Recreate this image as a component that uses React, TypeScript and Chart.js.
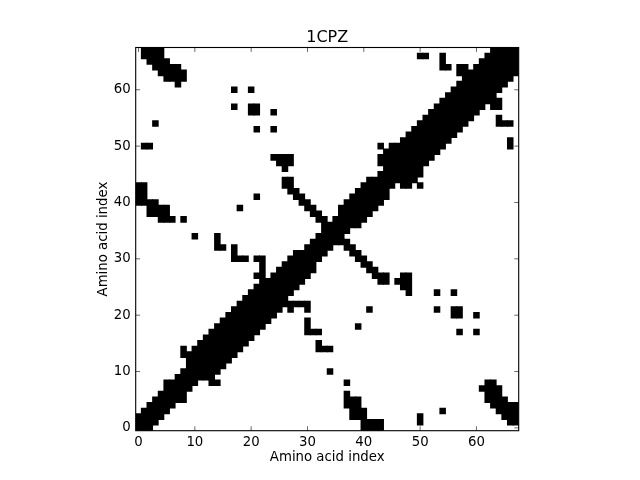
import React, { useEffect, useRef } from "react";
import { Chart, registerables } from "chart.js";

Chart.register(...registerables);

const RESIDUE_COUNT = 68;
const tickValues = [0, 10, 20, 30, 40, 50, 60];
const titleText = "1CPZ";
const axisLabel = "Amino acid index";

// lowest contacting residue j (j <= i) of the near-diagonal band, for each residue i
const bandLower = [
  0, 0, 0, 1, 2, 3, 4, 5, 5, 7,
  8, 9, 9, 8, 10, 11, 12, 13, 14, 15,
  16, 17, 18, 19, 20, 21, 22, 24, 25, 26,
  27, 28, 30, 31, 32, 33, 34, 35, 36, 36,
  37, 38, 39, 40, 41, 43, 44, 43, 43, 44,
  45, 47, 48, 49, 50, 51, 52, 53, 54, 55,
  56, 57, 58, 59, 60, 61, 62, 63,
];

// off-band contacts [i, j] with i > j (the map is symmetric)
const helixContacts = [
  [14, 8], [27, 21], [27, 22], [28, 22], [29, 22], [30, 22], [30, 21],
  [30, 17], [30, 18], [30, 19], [31, 17], [32, 17],
  [32, 14], [32, 15], [33, 14], [34, 14],
  [34, 10], [37, 8], [39, 18], [41, 21],
];
const hairpinContacts = [
  [36, 33], [37, 32], [37, 33], [38, 31], [38, 32], [39, 30], [39, 31],
  [40, 29], [40, 30], [41, 28], [41, 29], [42, 27], [42, 28],
  [43, 26], [43, 27], [44, 26], [44, 27],
  [46, 26], [47, 25], [47, 26], [47, 27], [48, 24], [48, 25], [48, 26], [48, 27],
  [53, 24], [56, 24], [50, 43],
];
const nTerminalContacts = [
  [40, 0], [41, 0], [42, 0], [43, 0], [40, 1], [41, 1], [42, 1], [43, 1],
  [38, 2], [39, 2], [40, 2], [38, 3], [39, 3], [40, 3],
  [37, 4], [38, 4], [39, 4], [37, 5], [38, 5], [39, 5], [37, 6],
  [50, 1], [50, 2], [54, 3],
  [53, 21], [56, 20], [56, 21], [57, 20], [57, 21], [60, 20], [57, 17], [60, 17],
];
const cTerminalContacts = [
  [61, 7], [62, 5], [62, 6], [62, 7], [62, 8],
  [63, 4], [63, 5], [63, 6], [63, 7], [63, 8],
  [64, 3], [64, 4], [64, 5], [64, 6], [64, 7],
  [65, 2], [65, 3], [65, 4], [65, 5],
  [66, 1], [66, 2], [66, 3], [66, 4],
  [67, 1], [67, 2], [67, 3], [67, 4],
  [66, 50], [66, 51], [64, 54], [65, 54], [66, 54], [64, 55],
  [63, 57], [64, 57], [63, 58], [64, 58],
];

function buildColumns() {
  const m: number[][] = [];
  for (let i = 0; i < RESIDUE_COUNT; i++) m.push(new Array(RESIDUE_COUNT).fill(0));
  const set = (i: number, j: number) => {
    m[i][j] = 1;
    m[j][i] = 1;
  };
  bandLower.forEach((lo, i) => {
    for (let j = lo; j <= i; j++) set(i, j);
  });
  [helixContacts, hairpinContacts, nTerminalContacts, cTerminalContacts].forEach((list) =>
    list.forEach(([i, j]) => set(i, j))
  );
  const bars: { x: number; y: [number, number] }[] = [];
  for (let i = 0; i < RESIDUE_COUNT; i++) {
    let j = 0;
    while (j < RESIDUE_COUNT) {
      if (m[i][j]) {
        const start = j;
        while (j + 1 < RESIDUE_COUNT && m[i][j + 1]) j++;
        bars.push({ x: i, y: [start - 0.5, j + 0.5] });
      }
      j++;
    }
  }
  return bars;
}

const FONT = "'DejaVu Sans', sans-serif";

const frameTicks = {
  id: "frameTicks",
  afterDraw(chart: any) {
    const { ctx, chartArea: a, scales } = chart;
    const len = 4.4;
    ctx.save();
    ctx.strokeStyle = "#000";
    ctx.lineWidth = 0.6;
    ctx.beginPath();
    tickValues.forEach((v) => {
      const x = scales.x.getPixelForValue(v);
      ctx.moveTo(x, a.bottom);
      ctx.lineTo(x, a.bottom - len);
      ctx.moveTo(x, a.top);
      ctx.lineTo(x, a.top + len);
      const y = scales.y.getPixelForValue(v);
      ctx.moveTo(a.left, y);
      ctx.lineTo(a.left + len, y);
      ctx.moveTo(a.right, y);
      ctx.lineTo(a.right - len, y);
    });
    ctx.stroke();
    ctx.lineWidth = 1.1;
    ctx.strokeRect(a.left, a.top, a.right - a.left, a.bottom - a.top);
    ctx.restore();
  },
};

export default function App() {
  const ref = useRef<HTMLCanvasElement | null>(null);
  useEffect(() => {
    if (!ref.current) return;
    const setTicks = (axis: any) => {
      axis.ticks = tickValues.map((v) => ({ value: v }));
    };
    const chart = new Chart(ref.current, {
      type: "bar",
      data: {
        datasets: [
          {
            data: buildColumns() as any,
            backgroundColor: "#000",
            borderWidth: 0,
            barPercentage: 1,
            categoryPercentage: 1,
            inflateAmount: 0.45,
          },
        ],
      },
      options: {
        animation: false,
        responsive: false,
        layout: { padding: { left: 0, right: 121.3, top: 0, bottom: 0 } },
        plugins: {
          legend: { display: false },
          tooltip: { enabled: false },
          title: {
            display: true,
            text: titleText,
            fullSize: false,
            color: "#000",
            font: { family: FONT, size: 16, weight: "normal" },
            padding: { top: 28.3, bottom: 0 },
          },
        },
        scales: {
          x: {
            type: "linear",
            offset: false,
            min: -0.5,
            max: 67.5,
            afterBuildTicks: setTicks,
            afterFit: (s: any) => {
              s.height = 49.3;
            },
            grid: { display: false, drawTicks: false, offset: false },
            border: { display: false },
            ticks: { color: "#000", font: { family: FONT, size: 13.3 }, padding: 4, maxRotation: 0, autoSkip: false },
            title: {
              display: true,
              text: axisLabel,
              color: "#000",
              font: { family: FONT, size: 13.3 },
              padding: { top: 0, bottom: 14 },
            },
          },
          y: {
            type: "linear",
            min: -0.5,
            max: 67.5,
            afterBuildTicks: setTicks,
            afterFit: (s: any) => {
              s.width = 135.7;
            },
            grid: { display: false, drawTicks: false },
            border: { display: false },
            ticks: { color: "#000", font: { family: FONT, size: 13.3 }, padding: 5, autoSkip: false },
            title: {
              display: true,
              text: axisLabel,
              color: "#000",
              font: { family: FONT, size: 13.3 },
              padding: { top: 96, bottom: 0 },
            },
          },
        },
      } as any,
      plugins: [frameTicks],
    });
    return () => chart.destroy();
  }, []);
  return (
    <div style={{ position: "absolute", left: 0, top: 0, width: 640, height: 480 }}>
      <canvas ref={ref} width={640} height={480} style={{ display: "block" }} />
    </div>
  );
}
